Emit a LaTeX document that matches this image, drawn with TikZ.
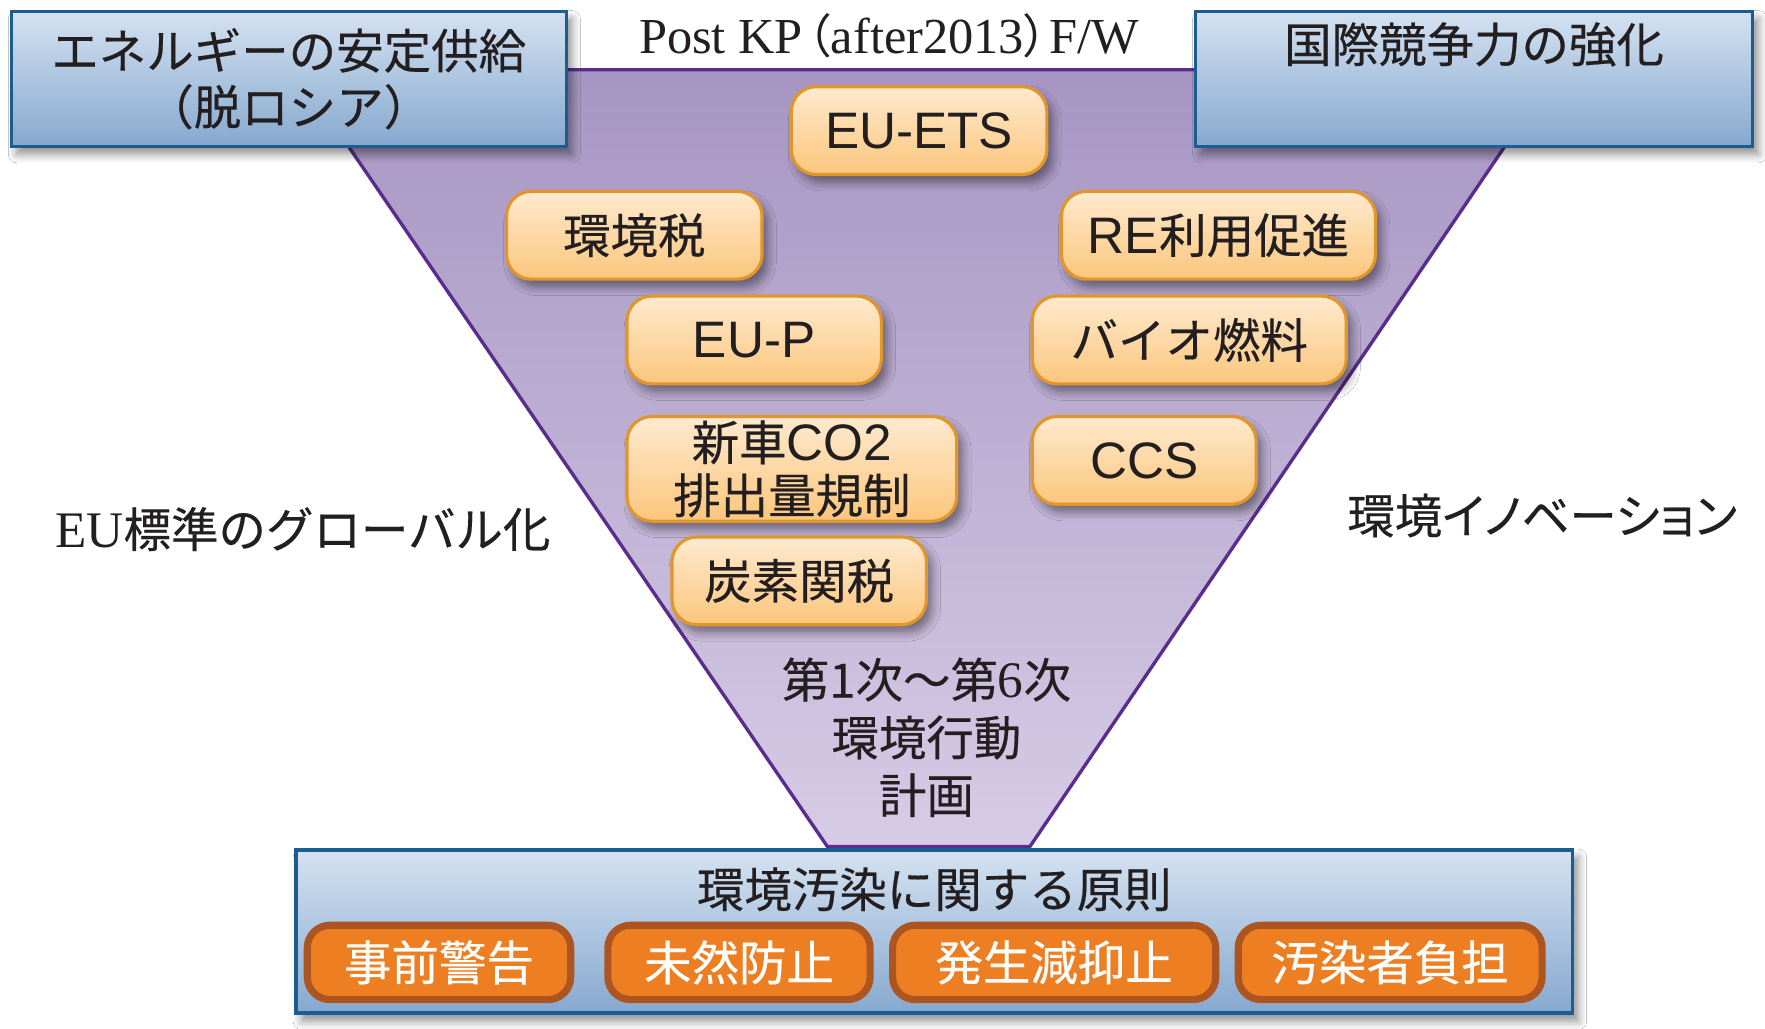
\documentclass[tikz,border=0pt]{standalone}
\usepackage{fontspec}
\setmainfont{Noto Sans CJK JP}[FakeBold=0.35]
\newfontfamily\jpw{Noto Sans CJK JP}[RawFeature=+palt]
\newfontfamily\jpp{Noto Sans CJK JP}[FakeBold=0.35, RawFeature=+palt]
\newfontfamily\ar{Liberation Sans}[Scale=1.08]
\newfontfamily\tm{Liberation Serif}[Scale=1.08]
\usetikzlibrary{shadows.blur}
\definecolor{trtop}{HTML}{A695C2}
\definecolor{trbot}{HTML}{D6CCE6}
\definecolor{trline}{HTML}{5A2D8C}
\definecolor{bltop}{HTML}{D4E2F1}
\definecolor{blbot}{HTML}{86A8CE}
\definecolor{blline}{HTML}{1B5C91}
\definecolor{pctop}{HTML}{FEEACF}
\definecolor{pcbot}{HTML}{FCC67C}
\definecolor{pcline}{HTML}{E0962A}
\definecolor{orfill}{HTML}{EE7E22}
\definecolor{orline}{HTML}{AD5520}
\definecolor{ink}{HTML}{231F20}
\tikzset{
  txt/.style={font=\fontsize{12pt}{14.2pt}\selectfont, text=ink, align=center},
  shad/.style={blur shadow={shadow xshift=0.5mm, shadow yshift=-0.7mm, shadow blur steps=6, shadow opacity=45}},
  bluebox/.style={txt, shad, draw=blline, line width=0.85pt, top color=bltop, bottom color=blbot, inner sep=0pt},
  peach/.style={txt, shad, draw=pcline, line width=0.8pt, top color=pctop, bottom color=pcbot, rounded corners=2.2mm, inner sep=0pt, minimum height=7.8mm},
  orbox/.style={txt, text=white, draw=orline, line width=1.8pt, fill=orfill, rounded corners=2mm, inner sep=0pt, minimum height=6.6mm},
  plain/.style={txt}
}
\begin{document}
\begin{tikzpicture}[x=0.1mm, y=-0.1mm]
\useasboundingbox (0,0) rectangle (1568,914);
\fill[white] (0,0) rectangle (1568,914);
% inverted trapezoid
\shade[top color=trtop, bottom color=trbot] (263,62) -- (1383,62) -- (915,752) -- (735,752) -- cycle;
\draw[trline, line width=0.85pt, line join=miter] (263,62) -- (1383,62) -- (915,752) -- (735,752) -- cycle;
% top boxes
\node[bluebox, minimum width=49.3mm, minimum height=12mm] (energy) at (256.5,70)
  {エネルギーの安定供給\\（脱ロシア）};
\node[bluebox, minimum width=49.5mm, minimum height=12mm] (compete) at (1309.5,70)
  {国際競争力の強化\\\strut};
\node[plain, font=\fontsize{11.8pt}{14pt}\selectfont] (post) at (790,32)
  {{\tm Post KP}\kern0.1em{\jpw （}{\tm after2013}{\jpw ）}\kern0.05em{\tm F/W}};
% measures
\node[peach, minimum width=22.7mm] (ets) at (816.5,116) {\ar EU-ETS};
\node[peach, minimum width=22.7mm] (tax) at (563.5,209) {環境税};
\node[peach, minimum width=27.9mm] (re) at (1082.5,209) {{\ar RE}利用促進};
\node[peach, minimum width=22.6mm] (eup) at (670,302) {\ar EU-P};
\node[peach, minimum width=27.9mm] (bio) at (1056.5,302) {バイオ燃料};
\node[peach, minimum width=29.3mm, minimum height=9.3mm, font=\fontsize{12pt}{13.4pt}\selectfont] (car) at (703.5,416.5) {新車{\ar CO2}\\排出量規制};
\node[peach, minimum width=19.9mm] (ccs) at (1016.5,409) {\ar CCS};
\node[peach, minimum width=22.6mm] (cbam) at (710,516) {炭素関税};
\node[plain, font=\fontsize{12pt}{14.6pt}\selectfont] (eap) at (823,655) {第1次～第{\tm 6}次\\環境行動\\計画};
% side labels
\node[plain] (glob) at (269,470) {{\tm EU}標準のグローバル化};
\node[plain, font=\fontsize{12pt}{14.2pt}\jpp] (innov) at (1370,458) {環境イノベーション};
% bottom principles
\node[bluebox, minimum width=113.4mm, minimum height=14.5mm] (princ) at (830,827.5) {};
\node[plain] (ptitle) at (830,790) {環境汚染に関する原則};
\node[orbox, minimum width=23.4mm] (p1) at (390,855) {事前警告};
\node[orbox, minimum width=23.3mm] (p2) at (656.5,855) {未然防止};
\node[orbox, minimum width=28.7mm] (p3) at (936.5,855) {発生減抑止};
\node[orbox, minimum width=27mm] (p4) at (1235,855) {汚染者負担};
\end{tikzpicture}
\end{document}
